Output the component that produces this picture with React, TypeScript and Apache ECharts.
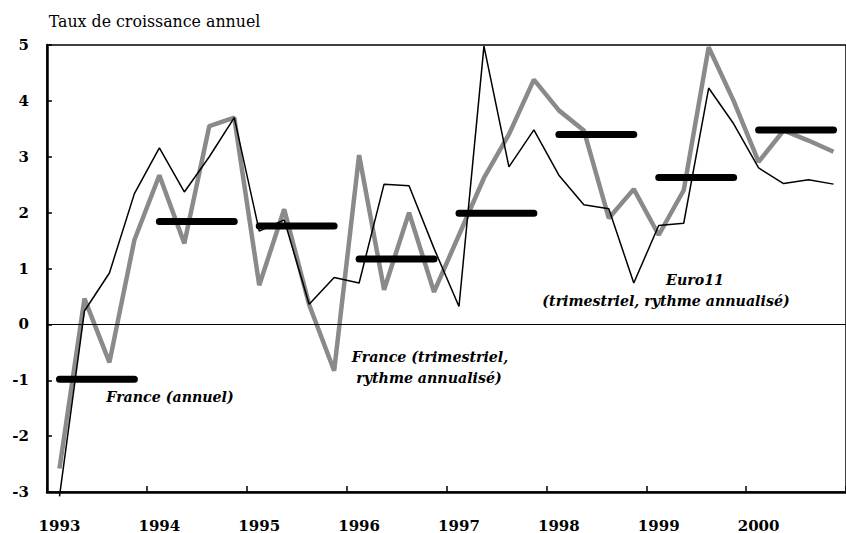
import React, { useEffect, useRef } from "react";
import * as echarts from "echarts";

const years = ["1993", "1994", "1995", "1996", "1997", "1998", "1999", "2000"];
const quarters = years.flatMap((y) => ["T1", "T2", "T3", "T4"].map((q) => `${y} ${q}`));

const euro11 = [
  -3.08, 0.24, 0.92, 2.34, 3.16, 2.37, 3.0, 3.7, 1.67, 1.87, 0.36, 0.84, 0.74, 2.51, 2.48, 1.36,
  0.32, 4.98, 2.82, 3.48, 2.67, 2.14, 2.07, 0.74, 1.77, 1.81, 4.23, 3.59, 2.8, 2.52, 2.59, 2.51,
];
const franceQ = [
  -2.58, 0.46, -0.68, 1.51, 2.67, 1.45, 3.55, 3.7, 0.7, 2.06, 0.35, -0.83, 3.03, 0.62, 2.0, 0.58,
  1.6, 2.62, 3.4, 4.38, 3.83, 3.47, 1.9, 2.42, 1.6, 2.4, 4.96, 4.0, 2.91, 3.47, 3.29, 3.09,
];
const franceAnnual = [-0.98, 1.84, 1.76, 1.17, 1.99, 3.4, 2.63, 3.48];

const yTicks = [-3, -2, -1, 0, 1, 2, 3, 4, 5];

export default function App() {
  const ref = useRef<HTMLDivElement>(null);
  useEffect(() => {
    if (!ref.current) return;
    const chart = echarts.init(ref.current, null, { renderer: "svg" });
    const serif = '"DejaVu Serif", serif';
    const noteFont = `italic bold 14.2px ${serif}`;
    const annualSeries = franceAnnual.map((v, yi) => ({
      type: "line",
      name: "France (annuel) " + years[yi],
      data: quarters.map((_, qi) => (Math.floor(qi / 4) === yi ? v : null)),
      symbol: "none",
      lineStyle: { color: "#000", width: 7, cap: "round" },
      z: 4,
      silent: true,
    }));
    chart.setOption({
      animation: false,
      backgroundColor: "#fff",
      grid: {
        left: 47,
        top: 45,
        width: 809.6,
        height: 450,
        show: true,
        borderColor: "#000",
        borderWidth: 1.5,
        backgroundColor: "transparent",
      },
      xAxis: {
        type: "category",
        data: quarters,
        boundaryGap: true,
        axisLine: { onZero: false, lineStyle: { color: "#000", width: 2.5 } },
        axisTick: { show: true, inside: true, length: 6, interval: 3, lineStyle: { color: "#000", width: 1.5 } },
        axisLabel: {
          interval: 3,
          margin: 26,
          color: "#000",
          fontFamily: serif,
          fontWeight: "bold",
          fontSize: 15,
          formatter: (v: string) => v.slice(0, 4),
        },
        splitLine: { show: false },
      },
      yAxis: {
        type: "value",
        min: yTicks[0],
        max: yTicks[yTicks.length - 1],
        interval: 1,
        axisLine: { show: true, lineStyle: { color: "#000", width: 2.5 } },
        axisTick: { show: true, inside: true, length: 5, lineStyle: { color: "#000", width: 1.5 } },
        axisLabel: {
          margin: 18,
          color: "#000",
          fontFamily: serif,
          fontWeight: "bold",
          fontSize: 15,
          formatter: (v: number) => (v < 0 ? "-" + Math.abs(v) : String(v)),
        },
        splitLine: { show: false },
      },
      graphic: [
        {
          type: "text",
          x: 154.5,
          y: 21,
          style: {
            text: "Taux de croissance annuel",
            font: `500 15.8px ${serif}`,
            fill: "#000",
            textAlign: "center",
            textVerticalAlign: "middle",
          },
        },
        {
          type: "text",
          x: 170,
          y: 397,
          style: { text: "France (annuel)", font: noteFont, fill: "#000", textAlign: "center", textVerticalAlign: "middle" },
        },
        {
          type: "text",
          x: 430,
          y: 357,
          style: { text: "France (trimestriel,", font: noteFont, fill: "#000", textAlign: "center", textVerticalAlign: "middle" },
        },
        {
          type: "text",
          x: 429,
          y: 378,
          style: { text: "rythme annualisé)", font: noteFont, fill: "#000", textAlign: "center", textVerticalAlign: "middle" },
        },
        {
          type: "text",
          x: 695,
          y: 280,
          style: { text: "Euro11", font: noteFont, fill: "#000", textAlign: "center", textVerticalAlign: "middle" },
        },
        {
          type: "text",
          x: 666,
          y: 301,
          style: {
            text: "(trimestriel, rythme annualisé)",
            font: noteFont,
            fill: "#000",
            textAlign: "center",
            textVerticalAlign: "middle",
          },
        },
      ],
      series: [
        {
          type: "line",
          name: "France (trimestriel, rythme annualisé)",
          data: franceQ,
          symbol: "none",
          lineStyle: { color: "#8a8a8a", width: 4.5 },
          z: 2,
          clip: false,
        },
        {
          type: "line",
          name: "Euro11 (trimestriel, rythme annualisé)",
          data: euro11,
          symbol: "none",
          lineStyle: { color: "#000", width: 1.5 },
          z: 3,
          clip: false,
          markLine: {
            silent: true,
            symbol: "none",
            label: { show: false },
            lineStyle: { color: "#000", width: 1, type: "solid" },
            data: [{ yAxis: 0 }],
          },
        },
        ...annualSeries,
      ],
    });
    return () => chart.dispose();
  }, []);
  return <div ref={ref} style={{ position: "absolute", left: 0, top: 0, width: 846, height: 533 }} />;
}
